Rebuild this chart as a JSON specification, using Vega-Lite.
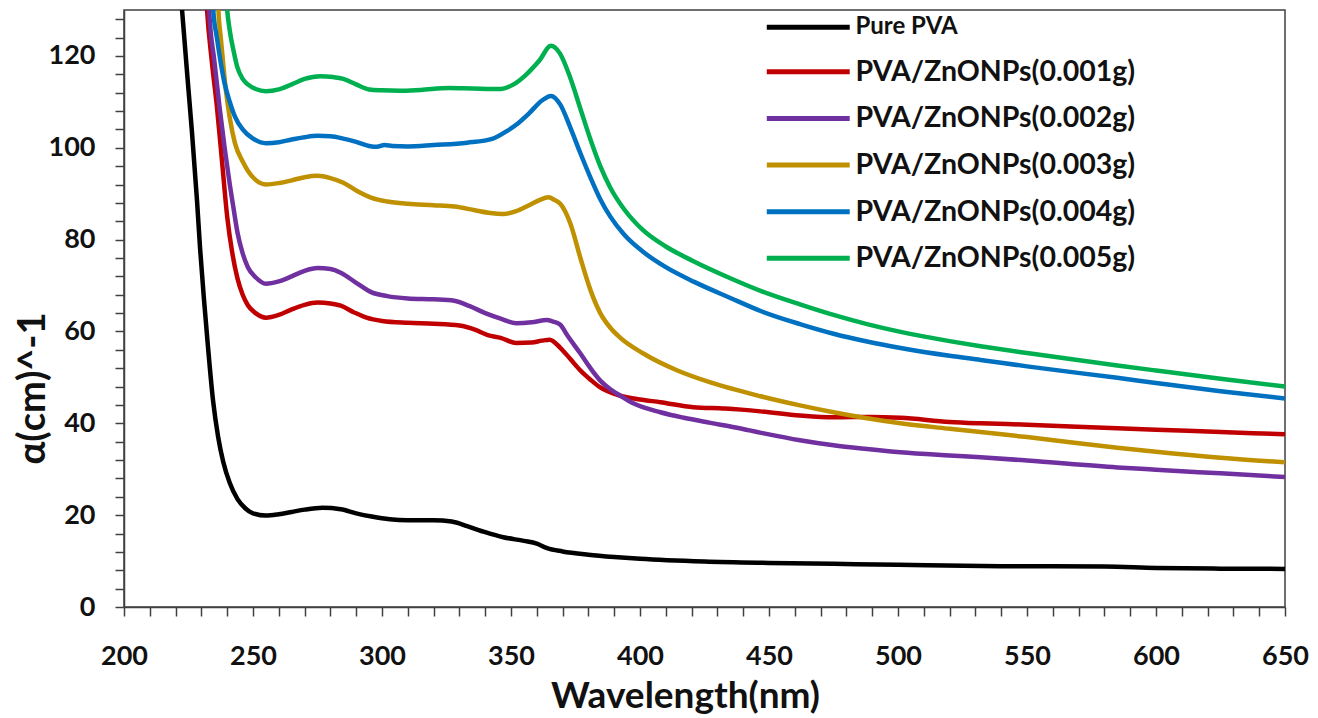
{
  "$schema": "https://vega.github.io/schema/vega-lite/v6.json",
  "width": 1161,
  "height": 597,
  "autosize": {"type": "none"},
  "padding": {"left": 124, "top": 10, "right": 33, "bottom": 111},
  "background": "white",
  "config": {
    "view": {"stroke": "#404040", "strokeWidth": 1.5},
    "font": "Lato, 'Noto Sans', sans-serif"
  },
  "data": {"values": [
    {"s":"Pure PVA","x":221.8,"y":135},{"s":"Pure PVA","x":222.5,"y":130},{"s":"Pure PVA","x":224.5,"y":116},{"s":"Pure PVA","x":226.4,"y":103},{"s":"Pure PVA","x":228.3,"y":88.5},{"s":"Pure PVA","x":229.5,"y":78},{"s":"Pure PVA","x":231,"y":67},{"s":"Pure PVA","x":232.5,"y":57},{"s":"Pure PVA","x":234.5,"y":45},{"s":"Pure PVA","x":236.5,"y":37},{"s":"Pure PVA","x":238.5,"y":31.5},{"s":"Pure PVA","x":241,"y":27},{"s":"Pure PVA","x":244,"y":23.5},{"s":"Pure PVA","x":247,"y":21.5},{"s":"Pure PVA","x":250,"y":20.4},{"s":"Pure PVA","x":255,"y":19.9},{"s":"Pure PVA","x":260,"y":20.2},{"s":"Pure PVA","x":265,"y":20.7},{"s":"Pure PVA","x":270,"y":21.2},{"s":"Pure PVA","x":277,"y":21.6},{"s":"Pure PVA","x":284,"y":21.3},{"s":"Pure PVA","x":290,"y":20.4},{"s":"Pure PVA","x":296,"y":19.7},{"s":"Pure PVA","x":303,"y":19.1},{"s":"Pure PVA","x":310,"y":18.9},{"s":"Pure PVA","x":320,"y":18.9},{"s":"Pure PVA","x":327,"y":18.6},{"s":"Pure PVA","x":333,"y":17.6},{"s":"Pure PVA","x":340,"y":16.3},{"s":"Pure PVA","x":347,"y":15.2},{"s":"Pure PVA","x":355,"y":14.4},{"s":"Pure PVA","x":360,"y":13.8},{"s":"Pure PVA","x":364,"y":12.8},{"s":"Pure PVA","x":370,"y":12.1},{"s":"Pure PVA","x":380,"y":11.4},{"s":"Pure PVA","x":390,"y":10.9},{"s":"Pure PVA","x":400,"y":10.5},{"s":"Pure PVA","x":425,"y":9.9},{"s":"Pure PVA","x":450,"y":9.6},{"s":"Pure PVA","x":475,"y":9.4},{"s":"Pure PVA","x":500,"y":9.2},{"s":"Pure PVA","x":540,"y":8.9},{"s":"Pure PVA","x":580,"y":8.8},{"s":"Pure PVA","x":600,"y":8.5},{"s":"Pure PVA","x":625,"y":8.35},{"s":"Pure PVA","x":650,"y":8.3},

    {"s":"PVA/ZnONPs(0.001g)","x":231.7,"y":135},{"s":"PVA/ZnONPs(0.001g)","x":232.2,"y":130},{"s":"PVA/ZnONPs(0.001g)","x":234,"y":119},{"s":"PVA/ZnONPs(0.001g)","x":236,"y":109},{"s":"PVA/ZnONPs(0.001g)","x":238,"y":97},{"s":"PVA/ZnONPs(0.001g)","x":240,"y":85},{"s":"PVA/ZnONPs(0.001g)","x":242,"y":77},{"s":"PVA/ZnONPs(0.001g)","x":244,"y":71.5},{"s":"PVA/ZnONPs(0.001g)","x":246,"y":68},{"s":"PVA/ZnONPs(0.001g)","x":248,"y":65.7},{"s":"PVA/ZnONPs(0.001g)","x":251,"y":64},{"s":"PVA/ZnONPs(0.001g)","x":255,"y":63},{"s":"PVA/ZnONPs(0.001g)","x":260,"y":63.6},{"s":"PVA/ZnONPs(0.001g)","x":265,"y":64.8},{"s":"PVA/ZnONPs(0.001g)","x":270,"y":65.8},{"s":"PVA/ZnONPs(0.001g)","x":275,"y":66.3},{"s":"PVA/ZnONPs(0.001g)","x":280,"y":66.1},{"s":"PVA/ZnONPs(0.001g)","x":284,"y":65.6},{"s":"PVA/ZnONPs(0.001g)","x":289,"y":64.2},{"s":"PVA/ZnONPs(0.001g)","x":294,"y":63},{"s":"PVA/ZnONPs(0.001g)","x":300,"y":62.3},{"s":"PVA/ZnONPs(0.001g)","x":310,"y":61.9},{"s":"PVA/ZnONPs(0.001g)","x":320,"y":61.7},{"s":"PVA/ZnONPs(0.001g)","x":330,"y":61.3},{"s":"PVA/ZnONPs(0.001g)","x":336,"y":60.4},{"s":"PVA/ZnONPs(0.001g)","x":341,"y":59.2},{"s":"PVA/ZnONPs(0.001g)","x":346,"y":58.6},{"s":"PVA/ZnONPs(0.001g)","x":352,"y":57.5},{"s":"PVA/ZnONPs(0.001g)","x":358,"y":57.6},{"s":"PVA/ZnONPs(0.001g)","x":362,"y":58},{"s":"PVA/ZnONPs(0.001g)","x":365,"y":58.2},{"s":"PVA/ZnONPs(0.001g)","x":369,"y":56.5},{"s":"PVA/ZnONPs(0.001g)","x":373,"y":54},{"s":"PVA/ZnONPs(0.001g)","x":376.9,"y":51.5},{"s":"PVA/ZnONPs(0.001g)","x":380.8,"y":49.5},{"s":"PVA/ZnONPs(0.001g)","x":384.6,"y":47.8},{"s":"PVA/ZnONPs(0.001g)","x":392.4,"y":46},{"s":"PVA/ZnONPs(0.001g)","x":400,"y":45.2},{"s":"PVA/ZnONPs(0.001g)","x":407.9,"y":44.6},{"s":"PVA/ZnONPs(0.001g)","x":420.7,"y":43.5},{"s":"PVA/ZnONPs(0.001g)","x":433,"y":43.2},{"s":"PVA/ZnONPs(0.001g)","x":446.7,"y":42.6},{"s":"PVA/ZnONPs(0.001g)","x":462,"y":41.7},{"s":"PVA/ZnONPs(0.001g)","x":475,"y":41.3},{"s":"PVA/ZnONPs(0.001g)","x":490,"y":41.4},{"s":"PVA/ZnONPs(0.001g)","x":501,"y":41.2},{"s":"PVA/ZnONPs(0.001g)","x":520,"y":40.3},{"s":"PVA/ZnONPs(0.001g)","x":532,"y":40},{"s":"PVA/ZnONPs(0.001g)","x":550,"y":39.7},{"s":"PVA/ZnONPs(0.001g)","x":585,"y":38.9},{"s":"PVA/ZnONPs(0.001g)","x":600,"y":38.6},{"s":"PVA/ZnONPs(0.001g)","x":625,"y":38.1},{"s":"PVA/ZnONPs(0.001g)","x":650,"y":37.6},

    {"s":"PVA/ZnONPs(0.002g)","x":232.6,"y":135},{"s":"PVA/ZnONPs(0.002g)","x":233,"y":130},{"s":"PVA/ZnONPs(0.002g)","x":235,"y":119},{"s":"PVA/ZnONPs(0.002g)","x":237,"y":109},{"s":"PVA/ZnONPs(0.002g)","x":239,"y":100},{"s":"PVA/ZnONPs(0.002g)","x":241,"y":92},{"s":"PVA/ZnONPs(0.002g)","x":242.4,"y":87},{"s":"PVA/ZnONPs(0.002g)","x":244,"y":81.5},{"s":"PVA/ZnONPs(0.002g)","x":246,"y":77},{"s":"PVA/ZnONPs(0.002g)","x":248,"y":74},{"s":"PVA/ZnONPs(0.002g)","x":251,"y":71.8},{"s":"PVA/ZnONPs(0.002g)","x":255,"y":70.4},{"s":"PVA/ZnONPs(0.002g)","x":260,"y":70.9},{"s":"PVA/ZnONPs(0.002g)","x":265,"y":72},{"s":"PVA/ZnONPs(0.002g)","x":270,"y":73.2},{"s":"PVA/ZnONPs(0.002g)","x":275,"y":73.8},{"s":"PVA/ZnONPs(0.002g)","x":280,"y":73.6},{"s":"PVA/ZnONPs(0.002g)","x":284,"y":72.8},{"s":"PVA/ZnONPs(0.002g)","x":290,"y":70.6},{"s":"PVA/ZnONPs(0.002g)","x":296,"y":68.5},{"s":"PVA/ZnONPs(0.002g)","x":302,"y":67.7},{"s":"PVA/ZnONPs(0.002g)","x":310,"y":67.2},{"s":"PVA/ZnONPs(0.002g)","x":320,"y":67},{"s":"PVA/ZnONPs(0.002g)","x":328,"y":66.7},{"s":"PVA/ZnONPs(0.002g)","x":334,"y":65.5},{"s":"PVA/ZnONPs(0.002g)","x":340,"y":64},{"s":"PVA/ZnONPs(0.002g)","x":346,"y":62.8},{"s":"PVA/ZnONPs(0.002g)","x":352,"y":61.8},{"s":"PVA/ZnONPs(0.002g)","x":358,"y":62},{"s":"PVA/ZnONPs(0.002g)","x":364,"y":62.5},{"s":"PVA/ZnONPs(0.002g)","x":366,"y":62.2},{"s":"PVA/ZnONPs(0.002g)","x":369,"y":61.5},{"s":"PVA/ZnONPs(0.002g)","x":372,"y":59},{"s":"PVA/ZnONPs(0.002g)","x":376.9,"y":55.2},{"s":"PVA/ZnONPs(0.002g)","x":380.8,"y":52},{"s":"PVA/ZnONPs(0.002g)","x":384.6,"y":49.3},{"s":"PVA/ZnONPs(0.002g)","x":388.5,"y":47.4},{"s":"PVA/ZnONPs(0.002g)","x":392.4,"y":46},{"s":"PVA/ZnONPs(0.002g)","x":397.6,"y":44.3},{"s":"PVA/ZnONPs(0.002g)","x":407.9,"y":42.4},{"s":"PVA/ZnONPs(0.002g)","x":417,"y":41.2},{"s":"PVA/ZnONPs(0.002g)","x":427.3,"y":40.1},{"s":"PVA/ZnONPs(0.002g)","x":437,"y":39.1},{"s":"PVA/ZnONPs(0.002g)","x":448,"y":37.8},{"s":"PVA/ZnONPs(0.002g)","x":462,"y":36.3},{"s":"PVA/ZnONPs(0.002g)","x":475,"y":35.2},{"s":"PVA/ZnONPs(0.002g)","x":488,"y":34.4},{"s":"PVA/ZnONPs(0.002g)","x":501,"y":33.7},{"s":"PVA/ZnONPs(0.002g)","x":520,"y":33},{"s":"PVA/ZnONPs(0.002g)","x":532,"y":32.6},{"s":"PVA/ZnONPs(0.002g)","x":550,"y":31.9},{"s":"PVA/ZnONPs(0.002g)","x":585,"y":30.4},{"s":"PVA/ZnONPs(0.002g)","x":600,"y":29.9},{"s":"PVA/ZnONPs(0.002g)","x":625,"y":29.1},{"s":"PVA/ZnONPs(0.002g)","x":650,"y":28.3},

    {"s":"PVA/ZnONPs(0.003g)","x":236.3,"y":135},{"s":"PVA/ZnONPs(0.003g)","x":236.6,"y":130},{"s":"PVA/ZnONPs(0.003g)","x":237.5,"y":124},{"s":"PVA/ZnONPs(0.003g)","x":238.5,"y":118},{"s":"PVA/ZnONPs(0.003g)","x":239.5,"y":112.5},{"s":"PVA/ZnONPs(0.003g)","x":241,"y":106.5},{"s":"PVA/ZnONPs(0.003g)","x":243,"y":101},{"s":"PVA/ZnONPs(0.003g)","x":246,"y":97},{"s":"PVA/ZnONPs(0.003g)","x":248,"y":95},{"s":"PVA/ZnONPs(0.003g)","x":251,"y":93},{"s":"PVA/ZnONPs(0.003g)","x":255,"y":92},{"s":"PVA/ZnONPs(0.003g)","x":260,"y":92.3},{"s":"PVA/ZnONPs(0.003g)","x":265,"y":92.9},{"s":"PVA/ZnONPs(0.003g)","x":270,"y":93.6},{"s":"PVA/ZnONPs(0.003g)","x":275,"y":93.9},{"s":"PVA/ZnONPs(0.003g)","x":280,"y":93.4},{"s":"PVA/ZnONPs(0.003g)","x":285,"y":92.4},{"s":"PVA/ZnONPs(0.003g)","x":290,"y":90.7},{"s":"PVA/ZnONPs(0.003g)","x":296,"y":89.1},{"s":"PVA/ZnONPs(0.003g)","x":302,"y":88.3},{"s":"PVA/ZnONPs(0.003g)","x":310,"y":87.8},{"s":"PVA/ZnONPs(0.003g)","x":320,"y":87.5},{"s":"PVA/ZnONPs(0.003g)","x":328,"y":87.2},{"s":"PVA/ZnONPs(0.003g)","x":336,"y":86.4},{"s":"PVA/ZnONPs(0.003g)","x":342,"y":85.8},{"s":"PVA/ZnONPs(0.003g)","x":347,"y":85.6},{"s":"PVA/ZnONPs(0.003g)","x":352,"y":86.2},{"s":"PVA/ZnONPs(0.003g)","x":357,"y":87.5},{"s":"PVA/ZnONPs(0.003g)","x":361,"y":88.6},{"s":"PVA/ZnONPs(0.003g)","x":364.5,"y":89.2},{"s":"PVA/ZnONPs(0.003g)","x":367,"y":88.6},{"s":"PVA/ZnONPs(0.003g)","x":369.1,"y":87.8},{"s":"PVA/ZnONPs(0.003g)","x":373,"y":83.5},{"s":"PVA/ZnONPs(0.003g)","x":376.9,"y":76},{"s":"PVA/ZnONPs(0.003g)","x":380.8,"y":69},{"s":"PVA/ZnONPs(0.003g)","x":384.6,"y":64},{"s":"PVA/ZnONPs(0.003g)","x":388.5,"y":60.8},{"s":"PVA/ZnONPs(0.003g)","x":392.4,"y":58.6},{"s":"PVA/ZnONPs(0.003g)","x":401.3,"y":55.2},{"s":"PVA/ZnONPs(0.003g)","x":414.5,"y":51.5},{"s":"PVA/ZnONPs(0.003g)","x":427.3,"y":48.9},{"s":"PVA/ZnONPs(0.003g)","x":446.7,"y":45.9},{"s":"PVA/ZnONPs(0.003g)","x":462,"y":43.9},{"s":"PVA/ZnONPs(0.003g)","x":475,"y":42.4},{"s":"PVA/ZnONPs(0.003g)","x":488,"y":41.1},{"s":"PVA/ZnONPs(0.003g)","x":501,"y":40},{"s":"PVA/ZnONPs(0.003g)","x":520,"y":38.8},{"s":"PVA/ZnONPs(0.003g)","x":532,"y":38.1},{"s":"PVA/ZnONPs(0.003g)","x":550,"y":37},{"s":"PVA/ZnONPs(0.003g)","x":585,"y":34.7},{"s":"PVA/ZnONPs(0.003g)","x":600,"y":33.8},{"s":"PVA/ZnONPs(0.003g)","x":625,"y":32.5},{"s":"PVA/ZnONPs(0.003g)","x":650,"y":31.5},

    {"s":"PVA/ZnONPs(0.004g)","x":234.3,"y":135},{"s":"PVA/ZnONPs(0.004g)","x":234.6,"y":130},{"s":"PVA/ZnONPs(0.004g)","x":236,"y":124},{"s":"PVA/ZnONPs(0.004g)","x":237.5,"y":118.5},{"s":"PVA/ZnONPs(0.004g)","x":239,"y":114},{"s":"PVA/ZnONPs(0.004g)","x":241,"y":110},{"s":"PVA/ZnONPs(0.004g)","x":243,"y":106.8},{"s":"PVA/ZnONPs(0.004g)","x":246,"y":104},{"s":"PVA/ZnONPs(0.004g)","x":250,"y":102},{"s":"PVA/ZnONPs(0.004g)","x":255,"y":101},{"s":"PVA/ZnONPs(0.004g)","x":260,"y":101.2},{"s":"PVA/ZnONPs(0.004g)","x":265,"y":101.8},{"s":"PVA/ZnONPs(0.004g)","x":270,"y":102.3},{"s":"PVA/ZnONPs(0.004g)","x":275,"y":102.6},{"s":"PVA/ZnONPs(0.004g)","x":280,"y":102.5},{"s":"PVA/ZnONPs(0.004g)","x":285,"y":102},{"s":"PVA/ZnONPs(0.004g)","x":290,"y":101.3},{"s":"PVA/ZnONPs(0.004g)","x":295,"y":100.4},{"s":"PVA/ZnONPs(0.004g)","x":298,"y":100.2},{"s":"PVA/ZnONPs(0.004g)","x":301,"y":100.6},{"s":"PVA/ZnONPs(0.004g)","x":304,"y":100.4},{"s":"PVA/ZnONPs(0.004g)","x":310,"y":100.3},{"s":"PVA/ZnONPs(0.004g)","x":320,"y":100.6},{"s":"PVA/ZnONPs(0.004g)","x":333,"y":101.1},{"s":"PVA/ZnONPs(0.004g)","x":343,"y":102},{"s":"PVA/ZnONPs(0.004g)","x":348,"y":103.5},{"s":"PVA/ZnONPs(0.004g)","x":352,"y":105},{"s":"PVA/ZnONPs(0.004g)","x":357,"y":107.5},{"s":"PVA/ZnONPs(0.004g)","x":362,"y":110.3},{"s":"PVA/ZnONPs(0.004g)","x":365.5,"y":111.3},{"s":"PVA/ZnONPs(0.004g)","x":369,"y":109.5},{"s":"PVA/ZnONPs(0.004g)","x":373,"y":104.4},{"s":"PVA/ZnONPs(0.004g)","x":376.9,"y":98.8},{"s":"PVA/ZnONPs(0.004g)","x":380.8,"y":93.5},{"s":"PVA/ZnONPs(0.004g)","x":384.6,"y":88.8},{"s":"PVA/ZnONPs(0.004g)","x":388.5,"y":85},{"s":"PVA/ZnONPs(0.004g)","x":394,"y":81},{"s":"PVA/ZnONPs(0.004g)","x":401.3,"y":77.3},{"s":"PVA/ZnONPs(0.004g)","x":410,"y":74},{"s":"PVA/ZnONPs(0.004g)","x":421,"y":70.8},{"s":"PVA/ZnONPs(0.004g)","x":435,"y":67.3},{"s":"PVA/ZnONPs(0.004g)","x":447,"y":64.4},{"s":"PVA/ZnONPs(0.004g)","x":462,"y":61.6},{"s":"PVA/ZnONPs(0.004g)","x":475,"y":59.5},{"s":"PVA/ZnONPs(0.004g)","x":488,"y":57.8},{"s":"PVA/ZnONPs(0.004g)","x":501,"y":56.4},{"s":"PVA/ZnONPs(0.004g)","x":520,"y":54.7},{"s":"PVA/ZnONPs(0.004g)","x":532,"y":53.8},{"s":"PVA/ZnONPs(0.004g)","x":550,"y":52.4},{"s":"PVA/ZnONPs(0.004g)","x":585,"y":49.9},{"s":"PVA/ZnONPs(0.004g)","x":600,"y":48.8},{"s":"PVA/ZnONPs(0.004g)","x":625,"y":47},{"s":"PVA/ZnONPs(0.004g)","x":650,"y":45.4},

    {"s":"PVA/ZnONPs(0.005g)","x":239.5,"y":134},{"s":"PVA/ZnONPs(0.005g)","x":240,"y":130},{"s":"PVA/ZnONPs(0.005g)","x":241,"y":125.5},{"s":"PVA/ZnONPs(0.005g)","x":242.5,"y":121},{"s":"PVA/ZnONPs(0.005g)","x":243.8,"y":117.8},{"s":"PVA/ZnONPs(0.005g)","x":246,"y":115},{"s":"PVA/ZnONPs(0.005g)","x":248,"y":113.8},{"s":"PVA/ZnONPs(0.005g)","x":251,"y":112.8},{"s":"PVA/ZnONPs(0.005g)","x":255,"y":112.3},{"s":"PVA/ZnONPs(0.005g)","x":260,"y":112.7},{"s":"PVA/ZnONPs(0.005g)","x":265,"y":113.8},{"s":"PVA/ZnONPs(0.005g)","x":270,"y":115},{"s":"PVA/ZnONPs(0.005g)","x":276,"y":115.6},{"s":"PVA/ZnONPs(0.005g)","x":281,"y":115.4},{"s":"PVA/ZnONPs(0.005g)","x":285,"y":115},{"s":"PVA/ZnONPs(0.005g)","x":290,"y":113.8},{"s":"PVA/ZnONPs(0.005g)","x":295,"y":112.7},{"s":"PVA/ZnONPs(0.005g)","x":300,"y":112.5},{"s":"PVA/ZnONPs(0.005g)","x":307,"y":112.4},{"s":"PVA/ZnONPs(0.005g)","x":315,"y":112.6},{"s":"PVA/ZnONPs(0.005g)","x":326,"y":113},{"s":"PVA/ZnONPs(0.005g)","x":335,"y":112.9},{"s":"PVA/ZnONPs(0.005g)","x":346,"y":112.8},{"s":"PVA/ZnONPs(0.005g)","x":351,"y":113.8},{"s":"PVA/ZnONPs(0.005g)","x":356,"y":116},{"s":"PVA/ZnONPs(0.005g)","x":361,"y":119},{"s":"PVA/ZnONPs(0.005g)","x":365.5,"y":122.2},{"s":"PVA/ZnONPs(0.005g)","x":369,"y":120.5},{"s":"PVA/ZnONPs(0.005g)","x":373,"y":115.2},{"s":"PVA/ZnONPs(0.005g)","x":376.9,"y":108.5},{"s":"PVA/ZnONPs(0.005g)","x":380.8,"y":101.8},{"s":"PVA/ZnONPs(0.005g)","x":384.6,"y":96},{"s":"PVA/ZnONPs(0.005g)","x":388.5,"y":91.3},{"s":"PVA/ZnONPs(0.005g)","x":394,"y":86.5},{"s":"PVA/ZnONPs(0.005g)","x":401.3,"y":82},{"s":"PVA/ZnONPs(0.005g)","x":410,"y":78.5},{"s":"PVA/ZnONPs(0.005g)","x":420.7,"y":75.3},{"s":"PVA/ZnONPs(0.005g)","x":435,"y":71.6},{"s":"PVA/ZnONPs(0.005g)","x":447,"y":68.8},{"s":"PVA/ZnONPs(0.005g)","x":462,"y":65.9},{"s":"PVA/ZnONPs(0.005g)","x":475,"y":63.6},{"s":"PVA/ZnONPs(0.005g)","x":488,"y":61.6},{"s":"PVA/ZnONPs(0.005g)","x":501,"y":59.9},{"s":"PVA/ZnONPs(0.005g)","x":520,"y":57.9},{"s":"PVA/ZnONPs(0.005g)","x":532,"y":56.8},{"s":"PVA/ZnONPs(0.005g)","x":550,"y":55.3},{"s":"PVA/ZnONPs(0.005g)","x":585,"y":52.6},{"s":"PVA/ZnONPs(0.005g)","x":600,"y":51.5},{"s":"PVA/ZnONPs(0.005g)","x":625,"y":49.7},{"s":"PVA/ZnONPs(0.005g)","x":650,"y":48}
  ]},
  "mark": {"type": "line", "interpolate": "monotone", "strokeWidth": 4.5, "clip": true},
  "encoding": {
    "x": {
      "field": "x", "type": "quantitative",
      "scale": {"domain": [200, 650], "nice": false},
      "axis": {
        "values": [200,210,220,230,240,250,260,270,280,290,300,310,320,330,340,350,360,370,380,390,400,410,420,430,440,450,460,470,480,490,500,510,520,530,540,550,560,570,580,590,600,610,620,630,640,650],
        "labelExpr": "datum.value % 50 === 0 ? datum.label : ''",
        "labelOverlap": false, "labelFlush": false,
        "grid": false,
        "domainColor": "#404040", "domainWidth": 1.5,
        "tickColor": "#404040", "tickWidth": 1.5, "tickSize": 9,
        "labelFontSize": 27, "labelFontWeight": "bold", "labelColor": "#111111", "labelPadding": 27,
        "title": "Wavelength(nm)",
        "titleFontSize": 37, "titleFontWeight": "bold", "titleColor": "#111111",
        "titleX": 561, "titleY": 100, "titleAlign": "center", "titleBaseline": "alphabetic"
      }
    },
    "y": {
      "field": "y", "type": "quantitative",
      "scale": {"domain": [0, 130], "nice": false},
      "axis": {
        "values": [0,4,8,12,16,20,24,28,32,36,40,44,48,52,56,60,64,68,72,76,80,84,88,92,96,100,104,108,112,116,120,124,128],
        "labelExpr": "datum.value % 20 === 0 ? datum.label : ''",
        "labelOverlap": false, "labelFlush": false,
        "grid": false,
        "domainColor": "#404040", "domainWidth": 1.5,
        "tickColor": "#404040", "tickWidth": 1.5, "tickSize": 9,
        "labelFontSize": 27, "labelFontWeight": "bold", "labelColor": "#111111", "labelPadding": 20,
        "title": "α(cm)^-1",
        "titleFontSize": 38, "titleFontWeight": "bold", "titleColor": "#111111",
        "titleX": -91, "titleY": 378, "titleAngle": 270, "titleAlign": "center", "titleBaseline": "middle"
      }
    },
    "color": {
      "field": "s", "type": "nominal",
      "scale": {
        "domain": ["Pure PVA","PVA/ZnONPs(0.001g)","PVA/ZnONPs(0.002g)","PVA/ZnONPs(0.003g)","PVA/ZnONPs(0.004g)","PVA/ZnONPs(0.005g)"],
        "range": ["#000000","#C00000","#7030A0","#BF9000","#0070C0","#00B050"]
      },
      "legend": {
        "title": null,
        "orient": "none", "legendX": 670, "legendY": 3,
        "symbolType": "M-4,0H4", "symbolSize": 430, "symbolStrokeWidth": 5,
        "labelFontSize": 28.5, "labelFontWeight": "bold", "labelColor": "#111111",
        "labelOffset": 33, "rowPadding": 17.6, "padding": 0, "labelLimit": 0,
        "encode": {"labels": {"update": {"fontSize": {"signal": "datum.label === 'Pure PVA' ? 24 : 28.5"}}}}
      }
    }
  }
}
